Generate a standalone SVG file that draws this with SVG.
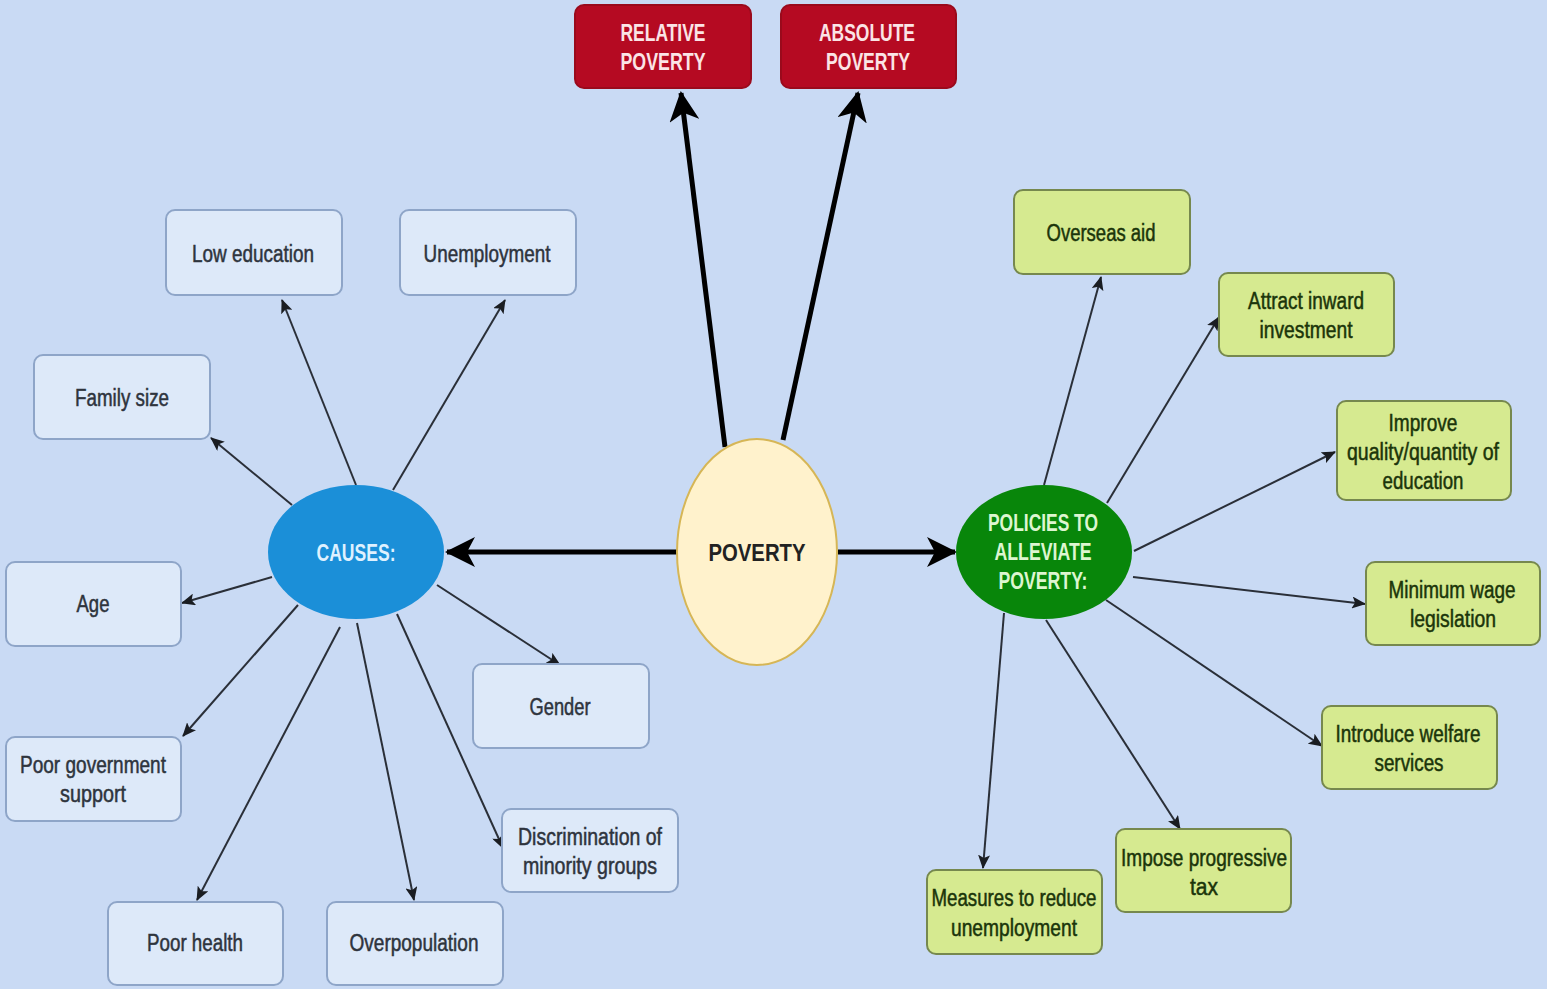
<svg xmlns="http://www.w3.org/2000/svg" width="1547" height="989" viewBox="0 0 1547 989">
<style>
.bg{fill:#c9daf4}
.cause rect{fill:#dde9f9;stroke:#8ea5c8;stroke-width:2}
.pol rect{fill:#d6ea90;stroke:#76884e;stroke-width:2}
.red rect{fill:#b50a22;stroke:#9a0a1c;stroke-width:2}
text{font-family:"Liberation Sans",Arial,sans-serif;font-size:23px;text-anchor:middle;dominant-baseline:central}
.cause text{fill:#2e343d;stroke:#2e343d;stroke-width:0.5}
.pol text{fill:#1b350a;stroke:#1b350a;stroke-width:0.5}
.red text{fill:#fbe4e6;font-weight:bold}
.thin{stroke:#2a2f38;stroke-width:2;fill:none;marker-end:url(#sa)}
.thick{stroke:#000;stroke-width:5;fill:none;marker-end:url(#la)}
</style>
<defs>
<marker id="sa" markerUnits="userSpaceOnUse" markerWidth="14" markerHeight="12" viewBox="0 0 14 12" refX="13" refY="6" orient="auto">
<path d="M0,0 L14,6 L0,12 L3,6 Z" fill="#1a1d22"/>
</marker>
<marker id="la" markerUnits="userSpaceOnUse" markerWidth="30" markerHeight="30" viewBox="0 0 30 30" refX="28" refY="15" orient="auto">
<path d="M0,0 L30,15 L0,30 L8,15 Z" fill="#000"/>
</marker>
</defs>
<rect class="bg" x="0" y="0" width="1547" height="989"/>
<g id="connectors">
<line class="thick" x1="677" y1="552" x2="447" y2="552"/>
<line class="thick" x1="838" y1="552" x2="955" y2="552"/>
<line class="thick" x1="725" y1="447" x2="681" y2="93"/>
<line class="thick" x1="783" y1="440" x2="858" y2="93"/>
<line class="thin" x1="356" y1="485" x2="282" y2="300"/>
<line class="thin" x1="393" y1="490" x2="505" y2="300"/>
<line class="thin" x1="292" y1="505" x2="211" y2="438"/>
<line class="thin" x1="272" y1="577" x2="182" y2="603"/>
<line class="thin" x1="298" y1="605" x2="183" y2="736"/>
<line class="thin" x1="340" y1="627" x2="197" y2="900"/>
<line class="thin" x1="357" y1="623" x2="414" y2="900"/>
<line class="thin" x1="397" y1="614" x2="503" y2="848"/>
<line class="thin" x1="437" y1="585" x2="560" y2="665"/>
<line class="thin" x1="1044" y1="485" x2="1101" y2="277"/>
<line class="thin" x1="1107" y1="503" x2="1219" y2="317"/>
<line class="thin" x1="1134" y1="551" x2="1335" y2="452"/>
<line class="thin" x1="1133" y1="577" x2="1365" y2="604"/>
<line class="thin" x1="1106" y1="600" x2="1322" y2="746"/>
<line class="thin" x1="1046" y1="620" x2="1180" y2="829"/>
<line class="thin" x1="1004" y1="613" x2="983" y2="868"/>
</g>
<g id="relative" class="red"><rect x="575" y="5" width="176" height="83" rx="9"/><text x="663" y="33" textLength="85" lengthAdjust="spacingAndGlyphs">RELATIVE</text><text x="663" y="62" textLength="85" lengthAdjust="spacingAndGlyphs">POVERTY</text></g>
<g id="absolute" class="red"><rect x="781" y="5" width="175" height="83" rx="9"/><text x="867" y="33" textLength="96" lengthAdjust="spacingAndGlyphs">ABSOLUTE</text><text x="868" y="62" textLength="84" lengthAdjust="spacingAndGlyphs">POVERTY</text></g>
<g id="poverty"><ellipse cx="757" cy="552" rx="80" ry="113" fill="#fff2cc" stroke="#d6b656" stroke-width="2"/><text x="757" y="553" style="font-weight:bold;fill:#222" textLength="97" lengthAdjust="spacingAndGlyphs">POVERTY</text></g>
<g id="causes"><ellipse cx="356" cy="552" rx="88" ry="67" fill="#1b8fd8"/><text x="356" y="553" style="font-weight:bold;fill:#dff1ff" textLength="79" lengthAdjust="spacingAndGlyphs">CAUSES:</text></g>
<g id="policies"><ellipse cx="1044" cy="552" rx="88" ry="67" fill="#08860a"/><text x="1043" y="523" style="font-weight:bold;fill:#ddf6d0" textLength="110" lengthAdjust="spacingAndGlyphs">POLICIES TO</text><text x="1043" y="552" style="font-weight:bold;fill:#ddf6d0" textLength="97" lengthAdjust="spacingAndGlyphs">ALLEVIATE</text><text x="1043" y="581" style="font-weight:bold;fill:#ddf6d0" textLength="89" lengthAdjust="spacingAndGlyphs">POVERTY:</text></g>
<g id="loweducation" class="cause"><rect x="166" y="210" width="176" height="85" rx="9"/><text x="253" y="254" textLength="122" lengthAdjust="spacingAndGlyphs">Low education</text></g>
<g id="unemployment" class="cause"><rect x="400" y="210" width="176" height="85" rx="9"/><text x="487" y="254" textLength="127" lengthAdjust="spacingAndGlyphs">Unemployment</text></g>
<g id="familysize" class="cause"><rect x="34" y="355" width="176" height="84" rx="9"/><text x="122" y="398" textLength="94" lengthAdjust="spacingAndGlyphs">Family size</text></g>
<g id="age" class="cause"><rect x="6" y="562" width="175" height="84" rx="9"/><text x="93" y="604" textLength="33" lengthAdjust="spacingAndGlyphs">Age</text></g>
<g id="gender" class="cause"><rect x="473" y="664" width="176" height="84" rx="9"/><text x="560" y="707" textLength="61" lengthAdjust="spacingAndGlyphs">Gender</text></g>
<g id="poorgov" class="cause"><rect x="6" y="737" width="175" height="84" rx="9"/><text x="93" y="765" textLength="146" lengthAdjust="spacingAndGlyphs">Poor government</text><text x="93" y="794" textLength="66" lengthAdjust="spacingAndGlyphs">support</text></g>
<g id="discrimination" class="cause"><rect x="502" y="809" width="176" height="83" rx="9"/><text x="590" y="837" textLength="144" lengthAdjust="spacingAndGlyphs">Discrimination of</text><text x="590" y="866" textLength="134" lengthAdjust="spacingAndGlyphs">minority groups</text></g>
<g id="poorhealth" class="cause"><rect x="108" y="902" width="175" height="83" rx="9"/><text x="195" y="943" textLength="96" lengthAdjust="spacingAndGlyphs">Poor health</text></g>
<g id="overpopulation" class="cause"><rect x="327" y="902" width="176" height="83" rx="9"/><text x="414" y="943" textLength="129" lengthAdjust="spacingAndGlyphs">Overpopulation</text></g>
<g id="overseas" class="pol"><rect x="1014" y="190" width="176" height="84" rx="9"/><text x="1101" y="233" textLength="109" lengthAdjust="spacingAndGlyphs">Overseas aid</text></g>
<g id="attract" class="pol"><rect x="1219" y="273" width="175" height="83" rx="9"/><text x="1306" y="301" textLength="116" lengthAdjust="spacingAndGlyphs">Attract inward</text><text x="1306" y="330" textLength="93" lengthAdjust="spacingAndGlyphs">investment</text></g>
<g id="improve" class="pol"><rect x="1337" y="401" width="174" height="99" rx="9"/><text x="1423" y="423" textLength="69" lengthAdjust="spacingAndGlyphs">Improve</text><text x="1423" y="452" textLength="152" lengthAdjust="spacingAndGlyphs">quality/quantity of</text><text x="1423" y="481" textLength="81" lengthAdjust="spacingAndGlyphs">education</text></g>
<g id="minwage" class="pol"><rect x="1366" y="562" width="174" height="83" rx="9"/><text x="1452" y="590" textLength="127" lengthAdjust="spacingAndGlyphs">Minimum wage</text><text x="1453" y="619" textLength="86" lengthAdjust="spacingAndGlyphs">legislation</text></g>
<g id="welfare" class="pol"><rect x="1322" y="706" width="175" height="83" rx="9"/><text x="1408" y="734" textLength="145" lengthAdjust="spacingAndGlyphs">Introduce welfare</text><text x="1409" y="763" textLength="69" lengthAdjust="spacingAndGlyphs">services</text></g>
<g id="tax" class="pol"><rect x="1116" y="829" width="175" height="83" rx="9"/><text x="1204" y="858" textLength="166" lengthAdjust="spacingAndGlyphs">Impose progressive</text><text x="1204" y="887" textLength="28" lengthAdjust="spacingAndGlyphs">tax</text></g>
<g id="measures" class="pol"><rect x="927" y="870" width="175" height="84" rx="9"/><text x="1014" y="898" textLength="165" lengthAdjust="spacingAndGlyphs">Measures to reduce</text><text x="1014" y="928" textLength="126" lengthAdjust="spacingAndGlyphs">unemployment</text></g>
</svg>
